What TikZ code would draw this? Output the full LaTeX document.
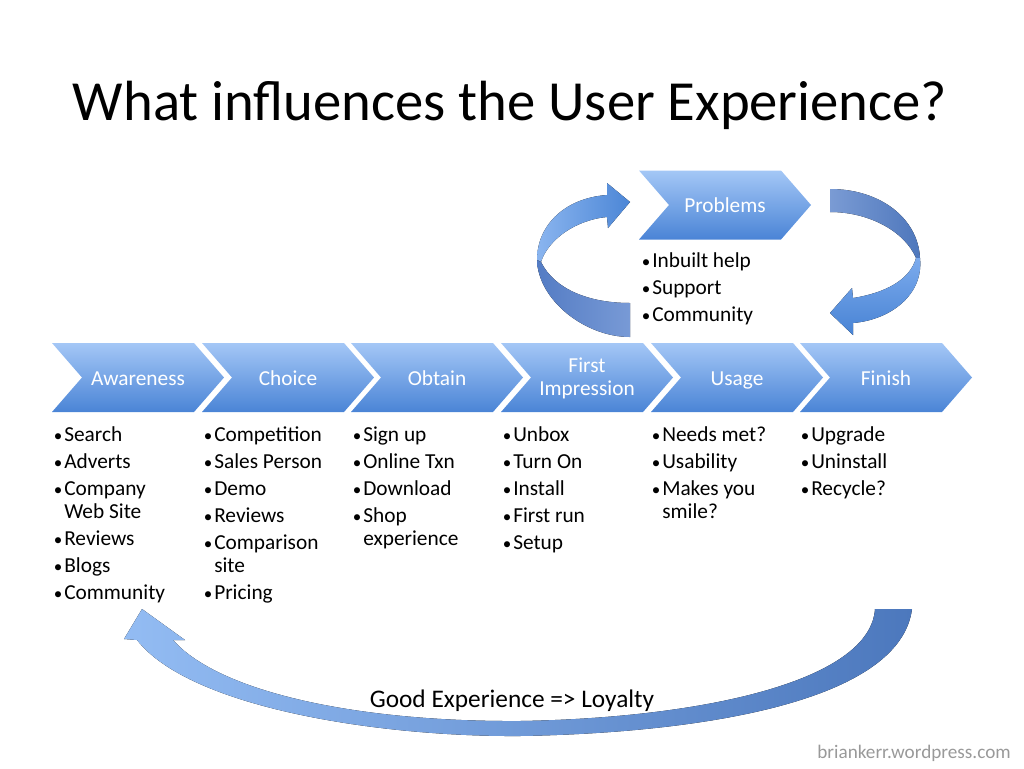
\documentclass[tikz,border=0pt]{standalone}
\usepackage{fontspec}
\setmainfont{Carlito}
\usetikzlibrary{shapes.symbols}
\definecolor{chevtop}{HTML}{A4C7F6}
\definecolor{chevbot}{HTML}{4A84D6}
\newcommand\myblt{\fontsize{16}{17.25}\selectfont}
\newcommand\mybu{\makebox[8.25pt][l]{\hspace{0.5pt}\scalebox{0.8}{\textbullet}}}
\begin{document}
\begin{tikzpicture}[x=0.75pt,y=-0.75pt,
  chev/.style={signal, signal to=east, signal from=west, signal pointer angle=98,
    minimum width=129pt, minimum height=51.75pt, inner sep=0pt, outer sep=0pt,
    top color=chevtop, bottom color=chevbot, draw=none},
  chevlab/.style={inner sep=0pt, text=white, font=\fontsize{16}{17.25}\selectfont, align=center},
  bl/.style={anchor=base west, inner sep=0pt, font=\myblt},
]
\useasboundingbox (0,0) rectangle (1024,768);

% title
\node[anchor=base, inner sep=0pt, font=\fontsize{42.5}{46}\selectfont] (title) at (510,120) {What influences the User Experience?};

% chevrons
\node[chev] (aw) at (138,377.5) {};
\node[chev] (ch) at (288,377.5) {};
\node[chev] (ob) at (437,377.5) {};
\node[chev] (fi) at (587,377.5) {};
\node[chev] (us) at (737,377.5) {};
\node[chev] (fn) at (886,377.5) {};
\node[chev] (pr) at (725,205) {};
\node[chevlab] (awl) at ([yshift=-2.5pt]aw.center) {\strut Awareness};
\node[chevlab] (chl) at ([yshift=-2.5pt]ch.center) {\strut Choice};
\node[chevlab] (obl) at ([yshift=-2.5pt]ob.center) {\strut Obtain};
\node[chevlab] (fil) at ([yshift=-1.5pt]fi.center) {\strut First\\\strut Impression};
\node[chevlab] (usl) at ([yshift=-2.5pt]us.center) {\strut Usage};
\node[chevlab] (fnl) at ([yshift=-2.5pt]fn.center) {\strut Finish};
\node[chevlab] (prl) at ([yshift=-2.5pt]pr.center) {\strut Problems};

% bullet items
\foreach \n/\x/\y/\t in {
  a1/53/441/Search, a2/53/468/Adverts, a3/53/495/Company, a4/53/545/Reviews, a5/53/572/Blogs, a6/53/599/Community,
  b1/203/441/Competition, b2/203/468/Sales Person, b3/203/495/Demo, b4/203/522/Reviews, b5/203/549/Comparison, b6/203/599/Pricing,
  c1/352/441/Sign up, c2/352/468/Online Txn, c3/352/495/Download, c4/352/522/Shop,
  d1/502/441/Unbox, d2/502/468/Turn On, d3/502/495/Install, d4/502/522/First run, d5/502/549/Setup,
  e1/651/441/Needs met?, e2/651/468/Usability, e3/651/495/Makes you,
  f1/800/441/Upgrade, f2/800/468/Uninstall, f3/800/495/Recycle?,
  p1/641/267/Inbuilt help, p2/641/294/Support, p3/641/321/Community}
  \node[bl] (\n) at (\x,\y) {\mybu\t};
% continuation lines
\foreach \n/\x/\y/\t in {
  a3b/64/518/Web Site, b5b/214/572/site, c4b/363/545/experience, e3b/662/518/smile?}
  \node[bl] (\n) at (\x,\y) {\t};

% left circular arrow (around Problems)
\fill[left color={rgb,255:red,138;green,181;blue,239}, right color={rgb,255:red,76;green,134;blue,214}]
  (630,202) -- (607,183) -- (607,195) .. controls (565,198) and (537,225) .. (537,260)
  -- (541,262) .. controls (548,240) and (575,220) .. (607,217) -- (608,228) -- cycle;
\fill[left color={rgb,255:red,84;green,124;blue,196}, right color={rgb,255:red,120;green,154;blue,214}]
  (537,260) .. controls (538,300) and (585,337) .. (630,337) -- (630,303)
  .. controls (590,303) and (555,290) .. (541,262) -- cycle;

% right circular arrow
\fill[left color={rgb,255:red,122;green,155;blue,212}, right color={rgb,255:red,78;green,119;blue,188}]
  (830,189) .. controls (880,189) and (918,218) .. (920,258) -- (916,258)
  .. controls (905,232) and (870,212) .. (830,212) -- cycle;
\fill[top color={rgb,255:red,124;green,171;blue,237}, bottom color={rgb,255:red,72;green,131;blue,212}]
  (920,258) .. controls (924,295) and (890,320) .. (853,323) -- (853,335) -- (830,313)
  -- (852,288) -- (853,298) .. controls (885,293) and (910,280) .. (916,258) -- cycle;

% bottom loyalty arrow
\fill[left color={rgb,255:red,147;green,188;blue,243}, right color={rgb,255:red,76;green,120;blue,189}]
  (142,609) -- (124,639) -- (137,640)
  .. controls (190,708) and (380,737) .. (520,736)
  .. controls (700,733) and (900,702) .. (912,609)
  -- (875,609)
  .. controls (870,682) and (700,718) .. (520,721)
  .. controls (360,722) and (220,693) .. (173,640)
  -- (185,640) -- cycle;

\node[anchor=base, inner sep=0pt, font=\fontsize{19}{22}\selectfont] (loyal) at (512,707) {Good Experience => Loyalty};
\node[anchor=base east, inner sep=0pt, text=black!40, font=\fontsize{14.4}{17}\selectfont] (foot) at (1011,758) {briankerr.wordpress.com};
\end{tikzpicture}
\end{document}
